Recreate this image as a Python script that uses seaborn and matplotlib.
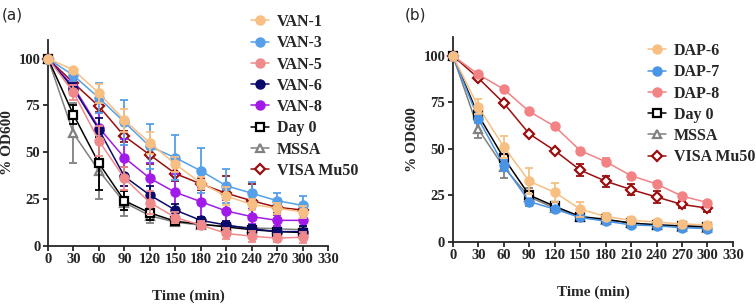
import numpy as np
import matplotlib.pyplot as plt
import pandas as pd
import seaborn as sns

time = [0, 30, 60, 90, 120, 150, 180, 210, 240, 270, 300]

# panel (a) - vancomycin passages
van1 = [100, 94, 81.5, 67, 55, 43.5, 33.5, 26.5, 22, 20, 18]
van1_sd = [0, 1, 5, 6, 6, 4, 3, 5, 3, 3, 3]
van3 = [100, 91, 79, 66, 53, 47, 40, 32, 28, 24, 21.5]
van3_sd = [0, 3, 8, 12, 12, 12, 12, 9, 6, 4, 5]
van5 = [100, 82, 56, 36, 23, 15, 11, 6.5, 5, 4, 4.5]
van5_sd = [0, 4, 8, 6, 6, 3, 2, 3, 3, 2, 3]
van6 = [100, 84, 62, 37, 27, 19, 13.5, 11, 9, 7.5, 7.5]
van6_sd = [0, 3, 6, 5, 5, 3, 2, 2, 2, 2, 3]
van8 = [100, 85, 63, 47, 36, 28.5, 23.5, 18.5, 15.5, 13.5, 13.5]
van8_sd = [0, 4, 8, 10, 8, 10, 8, 6, 4, 3, 3]
day0_a = [100, 70, 44, 24, 17.5, 13, 11.5, 10, 8.5, 7.5, 7]
day0_a_sd = [0, 5, 14, 5, 4, 2, 1, 1, 1, 1, 1]
mssa_a = [100, 60, 40, 23, 16, 12.5, 11, 10.5, 9.5, 9, 8.5]
mssa_a_sd = [0, 16, 15, 7, 4, 2, 1, 1, 1, 1, 1]
visa_a = [100, 87, 74.5, 58.5, 48.5, 38.5, 33, 28, 24, 20.5, 19]
visa_a_sd = [0, 2, 3, 3, 5, 4, 3, 9, 9, 3, 2]

# panel (b) - daptomycin passages
dap6 = [100, 72.5, 51, 32.5, 26.5, 17.5, 13.5, 11.5, 10.5, 9.5, 9]
dap6_sd = [0, 4, 6, 7, 5, 4, 2, 2, 1, 1, 1]
dap7 = [100, 66, 41, 21.5, 17.5, 13, 11, 9, 8.5, 7.5, 7]
dap7_sd = [0, 2, 3, 1, 1, 1, 1, 1, 1, 1, 1]
dap8 = [100, 90, 82, 70, 62, 49, 43, 35.5, 31, 24.5, 21]
dap8_sd = [0, 1, 1, 1, 1, 1, 2, 1, 1, 1, 1]
day0_b = [100, 68, 45, 25, 19, 13.5, 12, 10, 9, 8.5, 8]
day0_b_sd = [0, 2, 2, 2, 1, 1, 1, 1, 1, 1, 1]
mssa_b = [100, 60.5, 40, 24, 18, 13, 11.5, 10, 9, 8, 7.5]
mssa_b_sd = [0, 5, 6, 5, 1, 1, 1, 1, 1, 1, 1]
visa_b = [100, 88, 74.5, 58, 49, 38.5, 32.5, 28, 24, 20, 18]
visa_b_sd = [0, 1, 1, 1, 1, 3, 3, 3, 3, 2, 2]

PEACH = '#F7BF82'
BLUE = '#55A0E8'
SALMON = '#F08A8A'
NAVY = '#0A0A6A'
PURPLE = '#A21AE8'
GREY = '#808080'
DARKRED = '#9B0E0E'

# (label, mean, sd, colour, marker, filled)
series_a = [
    ('VAN-1', van1, van1_sd, PEACH, 'o', True),
    ('VAN-3', van3, van3_sd, BLUE, 'o', True),
    ('VAN-5', van5, van5_sd, SALMON, 'o', True),
    ('VAN-6', van6, van6_sd, NAVY, 'o', True),
    ('VAN-8', van8, van8_sd, PURPLE, 'o', True),
    ('Day 0', day0_a, day0_a_sd, 'black', 's', False),
    ('MSSA', mssa_a, mssa_a_sd, GREY, '^', False),
    ('VISA Mu50', visa_a, visa_a_sd, DARKRED, 'D', False),
]
series_b = [
    ('DAP-6', dap6, dap6_sd, PEACH, 'o', True),
    ('DAP-7', dap7, dap7_sd, '#4A94E6', 'o', True),
    ('DAP-8', dap8, dap8_sd, '#F28283', 'o', True),
    ('Day 0', day0_b, day0_b_sd, 'black', 's', False),
    ('MSSA', mssa_b, mssa_b_sd, GREY, '^', False),
    ('VISA Mu50', visa_b, visa_b_sd, DARKRED, 'D', False),
]

sns.set_style('ticks')
plt.rcParams['font.family'] = ['Liberation Serif', 'DejaVu Serif']
plt.rcParams['font.weight'] = 'bold'

fig = plt.figure(figsize=(7.56, 3.07), dpi=100)
ax_a = fig.add_axes([0.0635, 0.2, 0.3705, 0.67])
ax_b = fig.add_axes([0.599, 0.213, 0.3705, 0.666])


def draw_panel(ax, series):
    for i, (name, mean, sd, col, mk, filled) in enumerate(reversed(series)):
        z = 3 + i
        df = pd.DataFrame({'time': time, 'od': mean})
        ms = 6.5 if mk == 'o' else (5.0 if mk == 'D' else 5.5)
        sns.lineplot(data=df, x='time', y='od', ax=ax, color=col, linewidth=1.1,
                     marker=mk, markersize=ms,
                     markerfacecolor=col if filled else 'white',
                     markeredgecolor=col, markeredgewidth=1.0 if filled else 1.6,
                     label=name, clip_on=False, zorder=z + 0.5)
        ax.errorbar(time, mean, yerr=sd, fmt='none', ecolor=col, elinewidth=1.3,
                    capsize=3.2, capthick=1.3, zorder=z, clip_on=False)
    if ax.get_legend() is not None:
        ax.get_legend().remove()
    ax.set_xlim(0, 330)
    ax.set_ylim(0, 110)
    ax.set_xticks(range(0, 331, 30))
    ax.set_yticks([0, 25, 50, 75, 100])
    ax.tick_params(labelsize=10.5, width=1.3, length=3.5, pad=2)
    for lab in ax.get_xticklabels() + ax.get_yticklabels():
        lab.set_fontweight('bold')
    for s in ['left', 'bottom']:
        ax.spines[s].set_linewidth(1.3)
    sns.despine(ax=ax)
    ax.set_xlabel('Time (min)', fontsize=11, fontweight='bold', labelpad=17)
    ax.set_ylabel('% OD600', fontsize=11, fontweight='bold', labelpad=3)
    h, l = ax.get_legend_handles_labels()
    return h[::-1], l[::-1]


h_a, l_a = draw_panel(ax_a, series_a)
h_b, l_b = draw_panel(ax_b, series_b)

leg_kw = dict(loc='upper left', frameon=False, handlelength=1.15, handletextpad=0.45,
              labelspacing=0.33, borderpad=0, borderaxespad=0,
              prop={'family': 'Liberation Serif', 'weight': 'bold', 'size': 11.5})
fig.legend(h_a, l_a, bbox_to_anchor=(251 / 756, 1 - 14 / 307), **leg_kw)
fig.legend(h_b, l_b, bbox_to_anchor=(648 / 756, 1 - 43 / 307), **leg_kw)

fig.text(0.002, 0.975, '(a)', fontsize=11, family='DejaVu Sans', fontweight='normal', va='top')
fig.text(0.535, 0.975, '(b)', fontsize=11, family='DejaVu Sans', fontweight='normal', va='top')

fig.savefig('out.png', dpi=100)
